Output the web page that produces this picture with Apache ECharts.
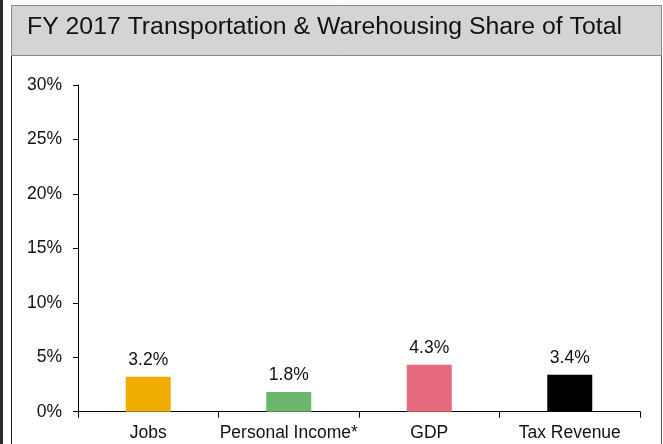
<!DOCTYPE html>
<html>
<head>
<meta charset="utf-8">
<script src="https://cdn.jsdelivr.net/npm/echarts@6/dist/echarts.min.js"></script>
<style>
html,body{margin:0;padding:0;background:#fff;}
#chart{width:663px;height:444px;}
</style>
</head>
<body>
<div id="chart"></div>
<script>
const titleText = 'FY 2017 Transportation & Warehousing Share of Total';
const categories = ['Jobs', 'Personal Income*', 'GDP', 'Tax Revenue'];
const values = [3.2, 1.8, 4.3, 3.4];
const barColors = ['#f0ac00', '#6bb76d', '#e56a7e', '#000000'];
const yTicks = [0, 5, 10, 15, 20, 25, 30];

const chart = echarts.init(document.getElementById('chart'), null, {renderer: 'canvas'});
const FONT = 'Liberation Sans, Arial, sans-serif';

chart.setOption({
  animation: false,
  backgroundColor: '#ffffff',
  graphic: [
    {type: 'rect', shape: {x: 0, y: 0, width: 3, height: 444}, style: {fill: '#2a2a2a'}, silent: true, z: 0},
    {type: 'rect', shape: {x: 11.5, y: 5.5, width: 650, height: 50}, style: {fill: '#d4d4d4', stroke: '#8a8a8a', lineWidth: 1}, silent: true, z: 0},
    {type: 'line', shape: {x1: 11.5, y1: 56, x2: 11.5, y2: 444}, style: {stroke: '#1a1a1a', lineWidth: 1}, silent: true, z: 0},
    {type: 'line', shape: {x1: 661.5, y1: 56, x2: 661.5, y2: 444}, style: {stroke: '#555555', lineWidth: 1}, silent: true, z: 0},
    {type: 'text', left: 27, top: 15, style: {text: titleText, fill: '#111111', font: '24.8px ' + FONT}, silent: true, z: 1}
  ],
  grid: {left: 78, right: 23, top: 85, bottom: 32.3, containLabel: false},
  xAxis: {
    type: 'category',
    data: categories,
    axisLine: {show: true, lineStyle: {color: '#000', width: 1}},
    axisTick: {show: true, length: 6, lineStyle: {color: '#000'}},
    axisLabel: {color: '#111', fontSize: 17.5, fontFamily: FONT, margin: 12, interval: 0}
  },
  yAxis: {
    type: 'value',
    min: yTicks[0],
    max: yTicks[yTicks.length - 1],
    interval: yTicks[1] - yTicks[0],
    axisLine: {show: true, lineStyle: {color: '#000', width: 1}},
    axisTick: {show: true, length: 5, lineStyle: {color: '#000'}},
    splitLine: {show: false},
    axisLabel: {color: '#111', fontSize: 17.5, fontFamily: FONT, margin: 16, formatter: '{value}%'}
  },
  series: [{
    type: 'bar',
    barWidth: 45,
    data: values.map((v, i) => ({value: v, itemStyle: {color: barColors[i]}})),
    label: {
      show: true,
      position: 'top',
      distance: 8,
      color: '#111',
      fontSize: 17.5,
      fontFamily: FONT,
      formatter: p => p.value.toFixed(1) + '%'
    }
  }]
});
</script>
</body>
</html>
